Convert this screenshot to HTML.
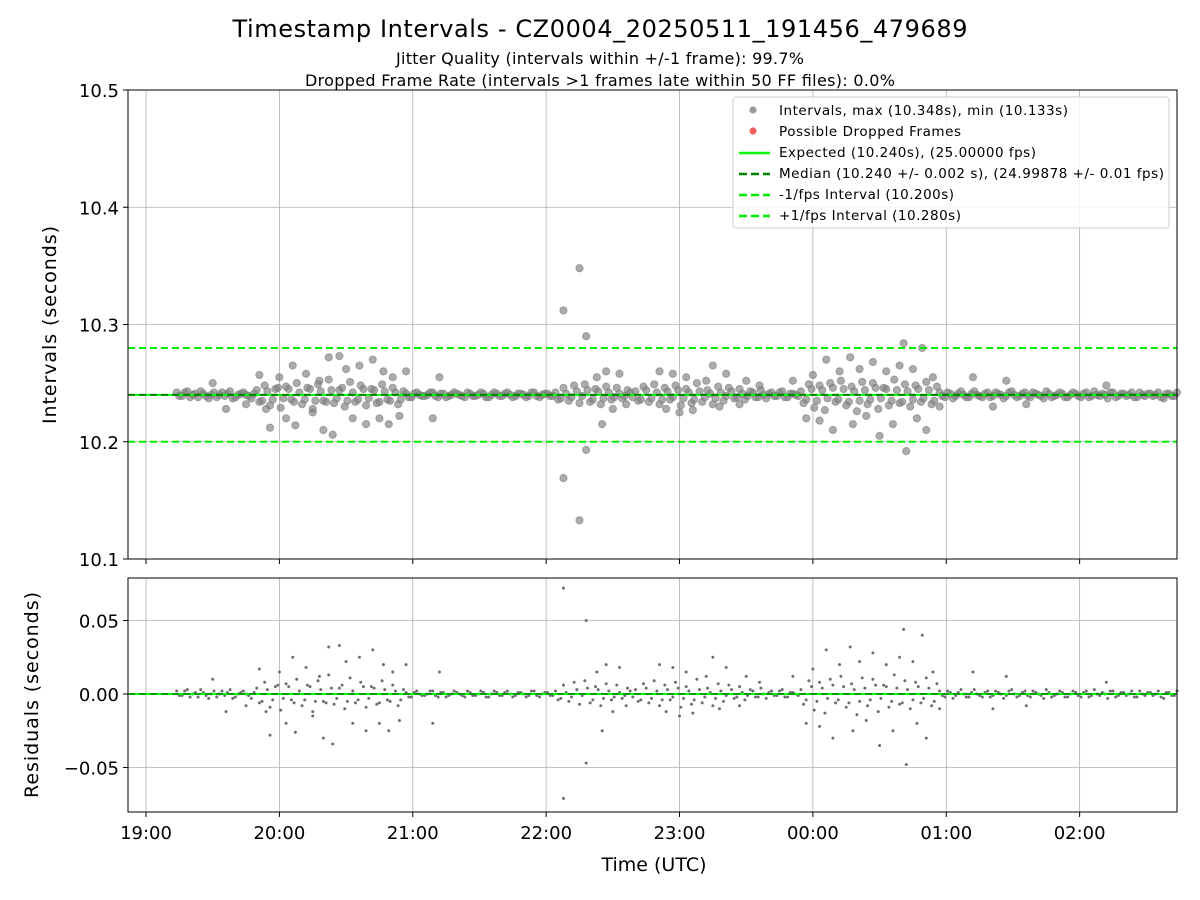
<!DOCTYPE html>
<html><head><meta charset="utf-8"><style>
body{margin:0;background:#fff;}
svg{display:block;font-family:"DejaVu Sans","Liberation Sans",sans-serif;}
</style></head><body>
<svg id="c" width="1200" height="900" viewBox="0 0 1200 900">
<text x="600" y="37" font-size="24" text-anchor="middle" textLength="735">Timestamp Intervals - CZ0004_20250511_191456_479689</text>
<text x="600" y="64" font-size="16" text-anchor="middle" textLength="408">Jitter Quality (intervals within +/-1 frame): 99.7%</text>
<text x="600" y="86" font-size="16" text-anchor="middle" textLength="590">Dropped Frame Rate (intervals &gt;1 frames late within 50 FF files): 0.0%</text>
<g id="top"></g>
<g id="bot"></g>
<text x="654" y="871" font-size="19" text-anchor="middle">Time (UTC)</text>
<text transform="translate(56,325) rotate(-90)" font-size="19" text-anchor="middle" textLength="198">Intervals (seconds)</text>
<text transform="translate(38,695) rotate(-90)" font-size="19" text-anchor="middle" textLength="206">Residuals (seconds)</text>
</svg>
<script>
const xTickLabels=["19:00","20:00","21:00","22:00","23:00","00:00","01:00","02:00"];
const topTicks=[10.1,10.2,10.3,10.4,10.5];
const botTicks=[-0.05,0.00,0.05];
const botTickLabels=["\u22120.05","0.00","0.05"];
const expected=10.240, median=10.240, lowLim=10.200, highLim=10.280;
const bandStart=0.23, bandStep=0.04, band2Start=0.25;
const bandResidMs=[2,-1,3,0,-2,1,-3,2,0,-1,3,-2,1,0,-3,
4,-5,3,-4,6,-3,5,-6,2,-4,5,-5,3,-6,4,-3,6,-5,2,-4,5,-3,4,-6,3,-5,2,-4,
1,-2,2,-1,0,2,-2,1,-1,2,0,-2,1,-1,2,-2,0,1,-1,2,-2,1,0,-1,2,-2,1,-1,
2,-3,1,-2,3,-1,4,-4,3,-3,2,-2,1,-1,2,
3,-4,4,-3,2,-4,3,-2,4,-3,2,-4,3,-2,1,-3,2,-1,3,-2,1,-1,2,-2,0,1,-1,2,-2,1,0,
3,-4,5,-5,4,-3,6,-4,5,-6,3,-5,4,-4,6,-3,5,-5,4,-6,3,-4,5,-3,4,-5,
2,-2,1,-1,3,-2,1,0,-2,2,-1,1,-3,2,0,-1,2,-2,1,-1,3,-2,0,1,-2,2,-1,1,-2,3,-1,0,2,-2,1,-1,2,-2,0,1,-1,2,-3,1,-1];
const bandResidMs2=[-1,2,-2,1,3,-1,0,-2,2,1,-3,0,2,-1,1,
-6,8,-9,5,-11,7,-4,10,-8,6,-12,9,-5,13,-7,4,-10,11,-6,8,-9,5,-7,9,-4,6,-8,3,
-2,1,0,-1,2,-1,1,-2,0,1,-1,2,-1,0,1,-2,2,-1,1,0,-1,1,-2,2,-1,0,1,-1,
-4,6,-5,8,-7,9,-6,5,-8,7,-4,6,-3,4,-2,
-5,7,-6,9,-8,6,-4,8,-9,5,-7,10,-6,4,-8,7,-5,6,-3,5,-4,3,-2,4,-3,2,-1,3,-2,1,-1,
-7,9,-11,8,-13,10,-6,12,-9,7,-14,11,-8,10,-12,6,-9,13,-7,9,-10,8,-6,11,-8,7,
-1,2,-3,1,0,-2,3,-1,1,-2,2,0,-1,3,-2,1,-1,2,0,-3,1,-1,2,-2,0,1,-2,2,-1,0,1,-3,2,-1,1,0,-2,2,-1,1,0,-2,1,-1,2];
const outHours=[0.5,0.6,0.75,0.85,0.9,0.93,1.0,1.05,1.1,1.12,1.2,1.25,1.3,1.33,1.37,1.4,1.45,1.5,1.55,1.6,1.65,1.7,1.75,1.78,1.82,1.85,1.9,1.95,2.15,2.2,
3.13,3.13,3.25,3.25,3.3,3.3,3.38,3.42,3.45,3.5,3.55,3.6,
3.85,3.9,3.95,4.0,4.05,4.1,4.2,4.25,4.3,4.35,4.45,4.5,4.6,
4.85,4.95,5.0,5.05,5.1,5.15,5.2,5.28,5.3,5.35,5.4,5.45,5.5,5.55,5.6,5.65,5.68,5.7,5.75,5.78,5.82,5.85,5.9,5.95,6.2,6.35,6.45,6.6,7.2];
const outResidMs=[10,-12,-8,17,-12,-28,15,-20,25,-26,18,-15,12,-30,32,-34,33,22,-20,25,-25,30,-20,20,-25,15,-18,20,-20,15,
72,-71,108,-107,50,-47,15,-25,20,-12,18,-8,
20,-12,18,-15,15,-13,12,25,-10,18,-8,12,8,
12,-20,17,-22,30,-30,20,32,-25,22,-18,28,-35,20,-25,25,44,-48,22,-20,40,-30,15,-10,15,-10,12,-8,8];

const NS="http://www.w3.org/2000/svg";
const L=128,R=1177,xmin=-0.135,xmax=7.73;
const X=h=>L+(h-xmin)/(xmax-xmin)*(R-L);
const T0=90,T1=559,Y1=v=>T1-(v-10.1)/0.4*(T1-T0);
const B0=578,B1=812,Y2=v=>694-v*1470;
function mk(p,tag,a){const e=document.createElementNS(NS,tag);for(const k in a)e.setAttribute(k,a[k]);p.appendChild(e);return e;}
const topG=document.getElementById('top'),botG=document.getElementById('bot');

function axes(g,y0,y1,ticks,labels,Y,showX,prefix){
  xTickLabels.forEach((lab,i)=>{const x=X(i);
    const gl=mk(g,'line',{x1:x,x2:x,y1:y0,y2:y1,stroke:'#b0b0b0','stroke-width':0.8});
    
    
    const tk=mk(g,'line',{x1:x,x2:x,y1:y1,y2:y1+5,stroke:'#000','stroke-width':1});
    
    
    if(showX){const t=mk(g,'text',{x:x,y:y1+27,'font-size':18,'text-anchor':'middle'});t.textContent=lab;
      
      }
  });
  ticks.forEach((v,i)=>{const y=Y(v);
    const gl=mk(g,'line',{x1:L,x2:R,y1:y,y2:y,stroke:'#b0b0b0','stroke-width':0.8});
    
    
    const tk=mk(g,'line',{x1:L-5,x2:L,y1:y,y2:y,stroke:'#000','stroke-width':1});
    
    
    const t=mk(g,'text',{x:L-9,y:y+7,'font-size':18,'text-anchor':'end'});t.textContent=labels[i];
    
    
  });
}
axes(topG,T0,T1,topTicks,topTicks.map(v=>v.toFixed(1)),Y1,false,'intervals');
axes(botG,B0,B1,botTicks,botTickLabels,Y2,true,'residuals');

function hline(g,y,color,dash,w,name){const l=mk(g,'line',{x1:L,x2:R,y1:y,y2:y,stroke:color,'stroke-width':w});
  if(dash)l.setAttribute('stroke-dasharray',dash);
  
  }

const pts=[];
bandResidMs.forEach((r,i)=>pts.push([bandStart+i*bandStep,r]));
bandResidMs2.forEach((r,i)=>pts.push([band2Start+i*bandStep,r]));
outHours.forEach((h,i)=>pts.push([h,outResidMs[i]]));
pts.forEach(([h,r])=>{
  if(h>xmax)return;
  const y=Y1(expected+r/1000);
  if(y>=T0&&y<=T1){const c=mk(topG,'circle',{cx:X(h),cy:y,r:3.6,fill:'#808080','fill-opacity':0.65,stroke:'#808080','stroke-opacity':0.65});
    
    }
  const y2=Y2(r/1000);
  if(y2>=B0&&y2<=B1){const c=mk(botG,'circle',{cx:X(h),cy:y2,r:1.5,fill:'#6e6e6e'});
    
    }
});
hline(topG,Y1(expected),'#00ff00',null,2,'expected-line');
hline(topG,Y1(median),'#008000','7,4',2,'median-line');
hline(topG,Y1(lowLim),'#00ee00','7,4',2,'minus-1fps-line');
hline(topG,Y1(highLim),'#00ee00','7,4',2,'plus-1fps-line');
hline(botG,Y2(0),'#00ff00',null,2,'residual-zero-line');
hline(botG,Y2(median-expected),'#008000','7,4',1.5,'residual-median-line');

const f1=mk(topG,'rect',{x:L,y:T0,width:R-L,height:T1-T0,fill:'none',stroke:'#000','stroke-width':1});


const f2=mk(botG,'rect',{x:L,y:B0,width:R-L,height:B1-B0,fill:'none',stroke:'#000','stroke-width':1});



const lg=mk(topG,'g',{});


const lb=mk(lg,'rect',{x:733,y:97,width:436,height:131,rx:3,fill:'#fff','fill-opacity':0.85,stroke:'#ccc'});


const entries=[["Intervals, max (10.348s), min (10.133s)","dot","#9a9a9a",289],["Possible Dropped Frames","dot","#f06060",182],["Expected (10.240s), (25.00000 fps)","line","#00ff00",257],["Median (10.240 +/- 0.002 s), (24.99878 +/- 0.01 fps)","dash","#008000",385],["-1/fps Interval (10.200s)","dash","#00ee00",175],["+1/fps Interval (10.280s)","dash","#00ee00",182]];
entries.forEach((e,i)=>{const y=110+i*21;
  let m;
  if(e[1]=='dot')m=mk(lg,'circle',{cx:753,cy:y,r:3.6,fill:e[2]});
  else{m=mk(lg,'line',{x1:739,x2:770,y1:y+1,y2:y+1,stroke:e[2],'stroke-width':2.5});if(e[1]=='dash')m.setAttribute('stroke-dasharray','8,4');}
  
  
  const t=mk(lg,'text',{x:779,y:y+5,'font-size':13.5,textLength:e[3]});t.textContent=e[0];
  
  
});
</script>
</body></html>
